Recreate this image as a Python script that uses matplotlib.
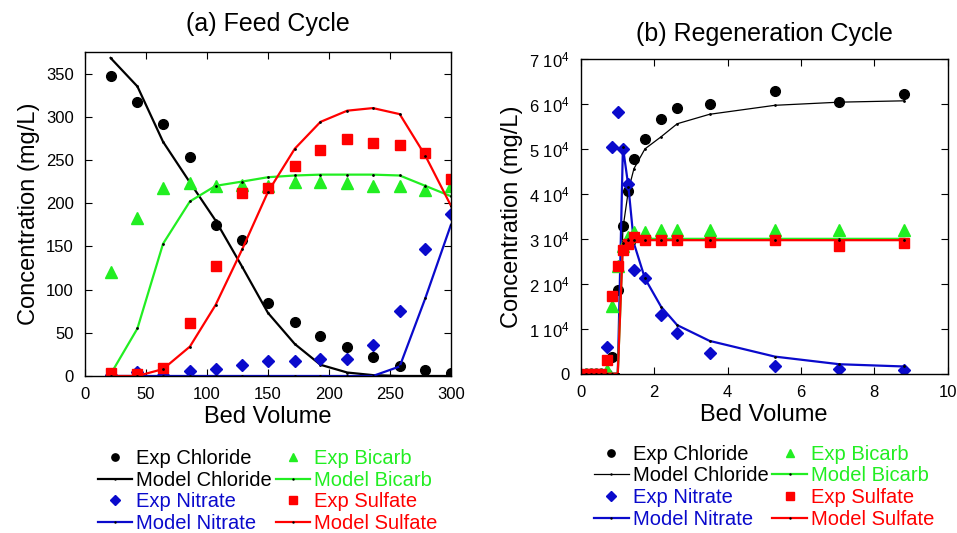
# Feed / regeneration cycle concentration profiles

import matplotlib
matplotlib.use('Agg')
import matplotlib.pyplot as plt
from matplotlib.ticker import FuncFormatter, MultipleLocator

plt.rcParams['font.family'] = ['Liberation Sans', 'DejaVu Sans']

# --- feed cycle data (mg/L vs bed volume) ---
bv_feed = [21, 43, 64, 86, 107, 129, 150, 172, 193, 215, 236, 258, 279, 300]
feed_cl_exp = [347, 317, 292, 253, 175, 157, 85, 62, 46, 33, 22, 12, 7, 4]
feed_cl_model = [368, 335, 271, 224, 180, 126, 73, 37, 13, 4, 1, 0, 0, 0]
feed_bicarb_exp = [120, 183, 217, 223, 220, 221, 220, 224, 224, 223, 220, 220, 215, 220]
feed_bicarb_model = [2, 55, 153, 202, 220, 225, 230, 232, 233, 233, 233, 232, 220, 208]
feed_no3_exp = [1, 5, 1, 6, 8, 13, 17, 17, 20, 20, 36, 75, 147, 188]
feed_no3_model = [0, 0, 0, 0, 0, 0, 0, 0, 0, 0, 0, 11, 90, 175]
feed_so4_exp = [3, 2, 9, 61, 127, 212, 218, 243, 261, 274, 270, 267, 258, 228]
feed_so4_model = [0, 0, 8, 34, 82, 147, 213, 263, 294, 307, 310, 303, 255, 197]

# --- regeneration cycle data ---
bv_regen = [0.15, 0.28, 0.41, 0.54, 0.73, 0.86, 1.01, 1.15, 1.30, 1.45, 1.75,
            2.19, 2.63, 3.51, 5.29, 7.05, 8.82]
regen_cl_exp = [0, 0, 0, 0, 0, 3800, 18700, 32800, 40600, 47700, 52200,
                56600, 59200, 59900, 62900, 60400, 62300]
regen_cl_model = [0, 0, 0, 0, 0, 0, 0, 32300, 40800, 45600, 50000,
                  52700, 55600, 57700, 59700, 60400, 60700]
regen_bicarb_exp = [0, 0, 0, 0, 800, 15100, 24000, 28500, 30400, 31600, 31600,
                    31900, 32000, 31900, 31900, 31900, 31900]
regen_bicarb_model = [0, 0, 0, 0, 0, 0, 0, 29500, 30000, 30000, 30000,
                      30000, 30000, 30000, 30000, 30000, 30000]
regen_no3_exp = [0, 0, 0, 0, 6000, 50400, 58200, 49900, 42300, 23000, 21200,
                 13000, 9000, 4700, 1800, 1000, 900]
regen_no3_model = [0, 0, 0, 0, 0, 0, 0, 50400, 41600, 29000, 21200,
                   14900, 10800, 7300, 3800, 2100, 1600]
regen_so4_exp = [0, 0, 0, 0, 3000, 17300, 23900, 27600, 28800, 30400, 29700,
                 29800, 29800, 29300, 29700, 28500, 29100]
regen_so4_model = [0, 0, 0, 0, 0, 0, 0, 29000, 29700, 29700, 29700,
                   29700, 29700, 29700, 29700, 29700, 29700]

BLACK = 'black'
GREEN = '#22ee22'
BLUE = '#0a0acc'
RED = '#ff0000'

fig = plt.figure(figsize=(9.57, 5.33), dpi=100)
ax1 = fig.add_axes([0.0888, 0.2946, 0.3824, 0.608])
ax2 = fig.add_axes([0.6068, 0.2989, 0.3835, 0.5904])


def draw(ax, x, cl_e, cl_m, bi_e, bi_m, no_e, no_m, so_e, so_m, cl_lw):
    dot = dict(marker='.', markersize=2, markerfacecolor='k', markeredgecolor='k')
    h = {}
    h['ecl'], = ax.plot(x, cl_e, 'o', color=BLACK, ms=7, ls='none', label='Exp Chloride')
    h['mcl'], = ax.plot(x, cl_m, '-', color=BLACK, lw=cl_lw, label='Model Chloride', **dot)
    h['eno'], = ax.plot(x, no_e, 'D', color=BLUE, ms=6.5, ls='none', label='Exp Nitrate')
    h['mno'], = ax.plot(x, no_m, '-', color=BLUE, lw=1.6, label='Model Nitrate', **dot)
    h['ebi'], = ax.plot(x, bi_e, '^', color=GREEN, ms=8, ls='none', label='Exp Bicarb')
    h['mbi'], = ax.plot(x, bi_m, '-', color=GREEN, lw=1.6, label='Model Bicarb', **dot)
    h['eso'], = ax.plot(x, so_e, 's', color=RED, ms=7, ls='none', label='Exp Sulfate')
    h['mso'], = ax.plot(x, so_m, '-', color=RED, lw=1.6, label='Model Sulfate', **dot)
    order = ['ecl', 'mcl', 'eno', 'mno', 'ebi', 'mbi', 'eso', 'mso']
    return [h[k] for k in order]


hs1 = draw(ax1, bv_feed, feed_cl_exp, feed_cl_model, feed_bicarb_exp, feed_bicarb_model,
           feed_no3_exp, feed_no3_model, feed_so4_exp, feed_so4_model, 1.6)
hs2 = draw(ax2, bv_regen, regen_cl_exp, regen_cl_model, regen_bicarb_exp, regen_bicarb_model,
           regen_no3_exp, regen_no3_model, regen_so4_exp, regen_so4_model, 0.9)

ax1.set_xlim(0, 300)
ax1.set_ylim(0, 375)
ax1.xaxis.set_major_locator(MultipleLocator(50))
ax1.yaxis.set_major_locator(MultipleLocator(50))
ax1.set_title('(a) Feed Cycle', fontsize=18, pad=15)

ax2.set_xlim(0, 10)
ax2.set_ylim(0, 70000)
ax2.xaxis.set_major_locator(MultipleLocator(2))
ax2.yaxis.set_major_locator(MultipleLocator(10000))
ax2.yaxis.set_major_formatter(FuncFormatter(
    lambda v, p: '0' if v == 0 else '%d 10$\\mathregular{^4}$' % round(v / 1e4)))
ax2.set_title('(b) Regeneration Cycle', fontsize=18, pad=13)

legend_shift = {ax1: -0.2, ax2: -0.2}
for ax, hs in [(ax1, hs1), (ax2, hs2)]:
    ax.set_xlabel('Bed Volume', fontsize=17, labelpad=3)
    ax.set_ylabel('Concentration (mg/L)', fontsize=17, labelpad=4)
    ax.tick_params(direction='in', top=True, right=True, length=5, labelsize=12, pad=8)
    for sp in ax.spines.values():
        sp.set_linewidth(1)
    ax.legend(handles=hs, ncol=2, loc='upper center', bbox_to_anchor=(0.5, legend_shift[ax]),
              frameon=False, fontsize=14.5, labelcolor='linecolor', markerscale=0.75,
              handlelength=1.7, handletextpad=0.2, columnspacing=0.2,
              labelspacing=0.14, borderaxespad=0)

fig.savefig('out.png', dpi=100)
